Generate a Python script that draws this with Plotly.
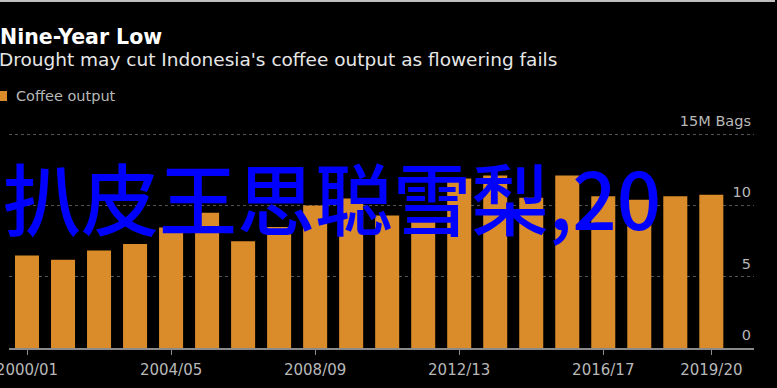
import plotly.graph_objects as go

# ---- data ----
seasons = ["2000/01", "2001/02", "2002/03", "2003/04", "2004/05", "2005/06", "2006/07",
           "2007/08", "2008/09", "2009/10", "2010/11", "2011/12", "2012/13", "2013/14",
           "2014/15", "2015/16", "2016/17", "2017/18", "2018/19", "2019/20"]
coffee_output = [6.5, 6.2, 6.85, 7.3, 8.45, 9.5, 7.5, 8.5, 10.0, 10.5,
                 9.3, 9.1, 11.9, 12.1, 10.55, 12.1, 10.65, 10.4, 10.65, 10.75]
x_tick_labels = ["2000/01", "2004/05", "2008/09", "2012/13", "2016/17", "2019/20"]
y_tick_vals = [0, 5, 10, 15]
y_tick_text = ["0", "5", "10", "15M Bags"]

title = "Nine-Year Low"
subtitle = "Drought may cut Indonesia's coffee output as flowering fails"
legend_name = "Coffee output"
overlay = "扒皮王思聪雪梨,20"

W, H = 777, 388
ML, MR, MT, MB = 9, 23, 130, 40
PW, PH = W - ML - MR, H - MT - MB


def px(xp):
    return (xp - ML) / PW


def py(yp):
    return (H - MB - yp) / PH


BAR = "#DA8C2B"
GRAY = "#b8b8b8"
FONT = "DejaVu Sans"

fig = go.Figure()
fig.add_trace(go.Bar(x=seasons, y=coffee_output, marker=dict(color=BAR, line=dict(width=0)),
                     name=legend_name, showlegend=False))

fig.update_layout(
    width=W, height=H,
    margin=dict(l=ML, r=MR, t=MT, b=MB, autoexpand=False),
    paper_bgcolor="black", plot_bgcolor="black",
    bargap=0.333,
    font=dict(family=FONT, color=GRAY, size=14.5),
    xaxis=dict(
        type="category", range=[-0.5, 20.185], automargin=False,
        tickmode="array", tickvals=x_tick_labels, ticktext=x_tick_labels,
        ticks="outside", ticklen=5, tickcolor="#8a8a8a", tickwidth=1,
        ticklabelstandoff=2,
        showline=True, linecolor="#8a8a8a", linewidth=1.5,
        showgrid=False, tickfont=dict(size=15, color=GRAY, family=FONT),
    ),
    yaxis=dict(
        side="right", range=[0, 15.3], automargin=False,
        tickmode="array", tickvals=y_tick_vals, ticktext=y_tick_text,
        ticklabelposition="inside top", ticklabeloverflow="allow",
        ticklabelshift=-3,
        ticks="", showgrid=True, gridcolor="#555555", griddash="dot", gridwidth=1,
        zeroline=False, showline=False,
        tickfont=dict(size=14.5, color=GRAY, family=FONT),
    ),
)

annotations = [
    dict(text="<b>" + title + "</b>", x=px(-2), y=py(37), xanchor="left", yanchor="middle",
         font=dict(family=FONT, size=20.5, color="white")),
    dict(text=subtitle, x=px(-3), y=py(60), xanchor="left", yanchor="middle",
         font=dict(family=FONT, size=18.5, color="#e6e6e6")),
    dict(text=legend_name, x=px(14), y=py(96), xanchor="left", yanchor="middle",
         font=dict(family=FONT, size=14.5, color=GRAY)),
    dict(text=overlay, x=px(1), y=py(196), xanchor="left", yanchor="middle",
         font=dict(family="Noto Sans CJK SC", size=78, color="#0000FF", weight=500)),
]
for a in annotations:
    a.update(xref="paper", yref="paper", showarrow=False)
fig.update_layout(annotations=annotations)

fig.add_shape(type="line", xref="paper", yref="paper", x0=px(0), x1=px(775), y0=py(1), y1=py(1),
              line=dict(color="white", width=1.5))
fig.add_shape(type="rect", xref="paper", yref="paper", x0=px(0), x1=px(7), y0=py(101), y1=py(91),
              fillcolor=BAR, line=dict(width=0))

fig.write_html("out.html")
